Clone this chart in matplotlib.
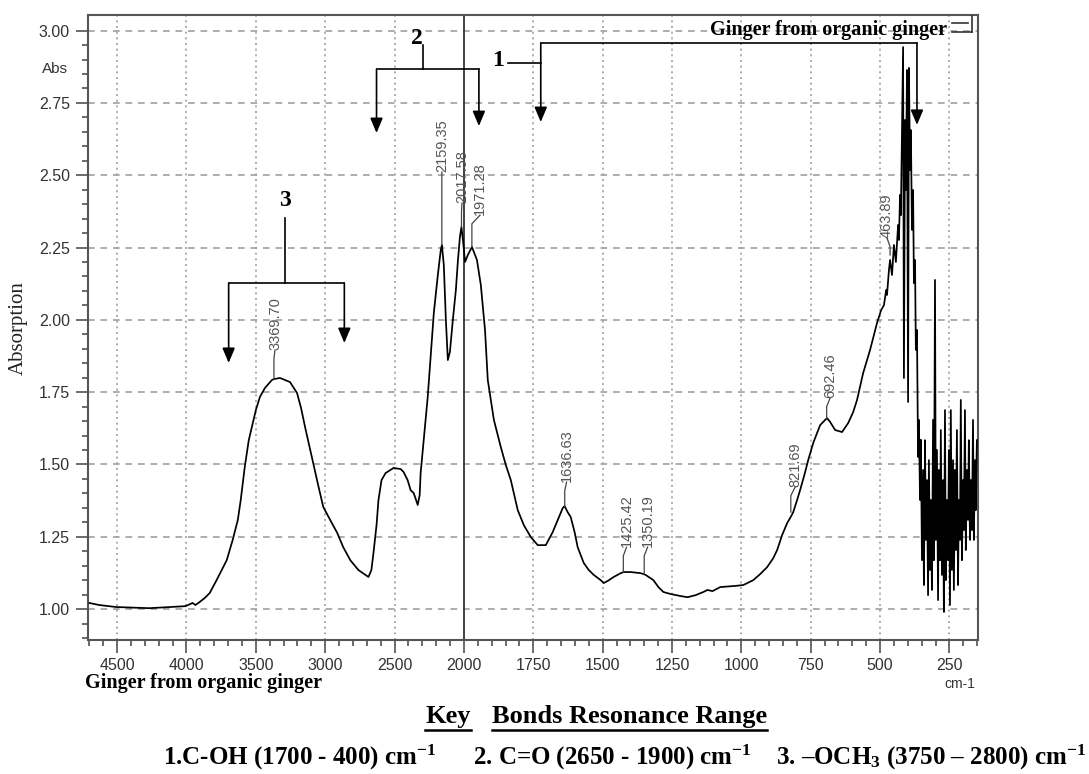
import matplotlib
matplotlib.use("Agg")
import matplotlib.pyplot as plt
from matplotlib.lines import Line2D
from matplotlib.ticker import FixedLocator, FormatStrFormatter
import numpy as np

# spectrum (wavenumber cm-1, absorbance)
wavenumber = [4700, 4630, 4507, 4268, 4123, 4007, 3956, 3935, 3906, 3869, 3833, 3783, 3710,
              3667, 3630, 3609, 3580, 3551, 3529, 3500, 3471, 3435, 3384, 3370, 3326, 3254,
              3203, 3174, 3145, 3116, 3087, 3051, 3014, 2964, 2913, 2870, 2819, 2761, 2688,
              2667, 2652, 2630, 2616, 2594, 2565, 2507, 2456, 2435, 2406, 2384, 2362, 2333,
              2319, 2312, 2283, 2261, 2239, 2217, 2188, 2167, 2159, 2145, 2130, 2116, 2101,
              2080, 2058, 2043, 2029, 2018, 2007, 1996, 1986, 1971, 1953, 1939, 1924, 1914,
              1892, 1867, 1849, 1831, 1806, 1784, 1759, 1734, 1705, 1680, 1662, 1644, 1637,
              1626, 1615, 1601, 1590, 1568, 1550, 1532, 1507, 1496, 1482, 1460, 1435, 1424,
              1399, 1363, 1353, 1345, 1317, 1299, 1281, 1255, 1219, 1194, 1165, 1137, 1122,
              1104, 1076, 1022, 993, 957, 932, 907, 885, 871, 853, 835, 820, 813, 799, 788,
              773, 759, 741, 716, 698, 691, 680, 662, 637, 615, 597, 583, 561, 536, 511, 496,
              486, 478, 475, 468, 464, 457, 450, 443, 435, 432, 428, 425, 421, 417, 414, 410,
              407, 403, 399, 396, 392, 389, 385, 381, 378, 374, 371, 367, 363, 360, 356, 353,
              349, 345]
absorbance = [1.021, 1.014, 1.007, 1.003, 1.007, 1.010, 1.021, 1.014, 1.024, 1.038, 1.055,
              1.100, 1.169, 1.239, 1.308, 1.377, 1.491, 1.584, 1.629, 1.688, 1.733, 1.764,
              1.792, 1.795, 1.799, 1.785, 1.747, 1.695, 1.629, 1.567, 1.505, 1.429, 1.353,
              1.308, 1.263, 1.214, 1.169, 1.135, 1.111, 1.135, 1.194, 1.290, 1.377, 1.446,
              1.470, 1.488, 1.484, 1.474, 1.446, 1.411, 1.401, 1.360, 1.394, 1.470, 1.619,
              1.733, 1.878, 2.024, 2.155, 2.241, 2.259, 2.190, 1.999, 1.861, 1.889, 1.999,
              2.103, 2.207, 2.286, 2.321, 2.276, 2.200, 2.224, 2.252, 2.207, 2.120, 1.965,
              1.792, 1.654, 1.560, 1.498, 1.446, 1.342, 1.290, 1.249, 1.221, 1.221, 1.266,
              1.308, 1.349, 1.356, 1.335, 1.318, 1.266, 1.214, 1.159, 1.135, 1.118, 1.100,
              1.090, 1.097, 1.111, 1.124, 1.128, 1.128, 1.124, 1.121, 1.118, 1.100, 1.076,
              1.059, 1.052, 1.045, 1.041, 1.048, 1.059, 1.066, 1.062, 1.076, 1.080, 1.083,
              1.100, 1.121, 1.145, 1.176, 1.204, 1.256, 1.297, 1.322, 1.335, 1.377, 1.412,
              1.463, 1.515, 1.574, 1.636, 1.654, 1.660, 1.647, 1.619, 1.612, 1.643, 1.681,
              1.723, 1.816, 1.896, 1.989, 2.034, 2.051, 2.103, 2.086, 2.172, 2.207, 2.155,
              2.259, 2.200, 2.328, 2.276, 2.432, 2.362, 2.656, 2.943, 1.799, 2.691, 2.449,
              2.864, 1.716, 2.871, 2.518, 2.656, 2.311, 2.449, 2.127, 2.207, 1.896, 1.965,
              1.526, 1.654, 1.377, 1.585, 1.169, 1.481]

# noisy tail below 345 cm-1
noise_wavenumber = [342, 338, 335, 331, 327, 324, 320, 317, 313, 309, 306, 302, 299, 295,
                    291, 288, 284, 281, 277, 273, 270, 266, 263, 259, 255, 252, 248, 245,
                    241, 237, 234, 230, 227, 223, 219, 216, 212, 209, 205, 201, 198, 194,
                    191, 187, 183, 180, 176, 173, 169, 165, 162, 158, 155, 151]
noise_absorbance = [1.083, 1.584, 1.239, 1.446, 1.048, 1.515, 1.135, 1.377, 1.066, 1.654,
                    1.169, 2.138, 1.239, 1.550, 1.031, 1.481, 1.169, 1.619, 1.118, 1.446,
                    0.990, 1.688, 1.100, 1.377, 1.169, 1.550, 1.014, 1.688, 1.135, 1.515,
                    1.066, 1.481, 1.204, 1.619, 1.083, 1.377, 1.239, 1.723, 1.169, 1.446,
                    1.273, 1.688, 1.204, 1.481, 1.308, 1.584, 1.239, 1.446, 1.273, 1.654,
                    1.239, 1.515, 1.342, 1.584]

peak_wavenumber = [3369.70, 2159.35, 2017.58, 1971.28, 1636.63, 1425.42, 1350.19, 821.69, 692.46, 463.89]
peak_absorbance = [1.795, 2.259, 2.321, 2.252, 1.356, 1.128, 1.121, 1.335, 1.660, 2.224]
label_wavenumber = [3362, 2159, 2014, 1942, 1630, 1414, 1338, 806, 680, 475]
label_base = [1.896, 2.511, 2.404, 2.362, 1.439, 1.214, 1.214, 1.422, 1.730, 2.283]

x_major = [4500, 4000, 3500, 3000, 2500, 2000, 1750, 1500, 1250, 1000, 750, 500, 250]
y_major = [1.00, 1.25, 1.50, 1.75, 2.00, 2.25, 2.50, 2.75, 3.00]

key_items = ["1.C-OH (1700 - 400) cm$^{-1}$",
             "2. C=O (2650 - 1900) cm$^{-1}$",
             "3. \u2013OCH$_3$ (3750 \u2013 2800) cm$^{-1}$"]

W, H = 1089, 774
plt.rcParams["font.family"] = ["Liberation Sans", "DejaVu Sans"]
plt.rcParams["mathtext.fontset"] = "custom"
plt.rcParams["mathtext.rm"] = "Liberation Serif:bold"
plt.rcParams["mathtext.it"] = "Liberation Serif:bold"
plt.rcParams["mathtext.bf"] = "Liberation Serif:bold"
SERIF = ["Liberation Serif", "DejaVu Serif"]


def fwd(x):
    x = np.asarray(x, dtype=float)
    return np.where(x > 2000, 2000 + (x - 2000) / 2, x)


def inv(t):
    t = np.asarray(t, dtype=float)
    return np.where(t > 2000, 2000 + (t - 2000) * 2, t)


def fp(x, y):
    return x / W, 1 - y / H


fig = plt.figure(figsize=(W / 100, H / 100), dpi=100)
ax = fig.add_axes([88 / W, 1 - 640 / H, (978 - 88) / W, (640 - 15) / H])
ax.set_xscale("function", functions=(fwd, inv))
ax.set_xlim(4710, 147)
ax.set_ylim(0.893, 3.054)

x_minor = list(range(4700, 2000, -100)) + list(range(2000, 149, -50))
ax.xaxis.set_major_locator(FixedLocator(x_major))
ax.xaxis.set_minor_locator(FixedLocator(x_minor))
ax.xaxis.set_major_formatter(FormatStrFormatter("%d"))
ax.xaxis.set_minor_formatter(FormatStrFormatter(""))
ax.yaxis.set_major_locator(FixedLocator(y_major))
ax.yaxis.set_minor_locator(FixedLocator(np.arange(0.90, 3.05, 0.05)))
ax.yaxis.set_major_formatter(FormatStrFormatter("%.2f"))

ax.tick_params(which="major", direction="out", length=9, width=1.1, color="#444",
               labelsize=11.5, labelcolor="#333", pad=4)
ax.tick_params(which="minor", direction="out", length=4.5, width=1.1, color="#444")
ax.tick_params(axis="x", which="major", pad=4)
for s in ax.spines.values():
    s.set_color("#555")
    s.set_linewidth(1.5)

for y in y_major:
    ax.axhline(y, color="#a0a0a0", lw=1.2, ls=(0, (4, 3.5)), zorder=1)
for x in x_major:
    if x != 2000:
        ax.axvline(x, color="#a0a0a0", lw=1.2, ls=(0, (1.2, 2.2)), zorder=1)
ax.axvline(2000, color="#333", lw=1.3, zorder=2)

ax.plot(wavenumber + noise_wavenumber, absorbance + noise_absorbance,
        color="black", lw=1.25, zorder=3)

# peak labels
for pw, pa, lw_, lb in zip(peak_wavenumber, peak_absorbance, label_wavenumber, label_base):
    ax.plot([pw, pw, lw_], [pa, lb - 0.03, lb], color="#444", lw=0.9, zorder=4)
    ax.text(lw_, lb, f"{pw:.2f}", rotation=90, ha="center", va="bottom",
            fontsize=10.5, color="#555", zorder=4)

# range brackets
arrow = dict(arrowstyle="-|>,head_length=0.9,head_width=0.38", color="black",
             lw=1.2, shrinkA=0, shrinkB=0, mutation_scale=10)


def bracket(num, num_xy, stem_x, stem_top, bar_y, ends, tips):
    ax.text(num_xy[0], num_xy[1], num, ha="center", va="center", fontsize=17,
            fontweight="bold", family=SERIF, zorder=5)
    ax.plot([stem_x, stem_x], [stem_top, bar_y], color="black", lw=1.2, zorder=5)
    ax.plot(ends, [bar_y, bar_y], color="black", lw=1.2, zorder=5)
    for x, t in zip(ends, tips):
        ax.annotate("", xy=(x, t), xytext=(x, bar_y), arrowprops=arrow, zorder=5)


bracket("3", (3290, 2.414), 3290, 2.352, 2.127, [3696, 2862], [1.851, 1.920])
bracket("2", (2341, 2.974), 2297, 2.950, 2.867, [2630, 1946], [2.646, 2.670])
# bracket 1
ax.text(1878, 2.898, "1", ha="center", va="center", fontsize=17, fontweight="bold",
        family=SERIF, zorder=5)
ax.plot([1842, 1723], [2.888, 2.888], color="black", lw=1.2, zorder=5)
ax.plot([1723, 367], [2.957, 2.957], color="black", lw=1.2, zorder=5)
ax.annotate("", xy=(1723, 2.684), xytext=(1723, 2.957), arrowprops=arrow, zorder=5)
ax.annotate("", xy=(367, 2.674), xytext=(367, 2.957), arrowprops=arrow, zorder=5)

# surrounding text
fig.text(*fp(18, 328), "Absorption", rotation=90, ha="center", va="center",
         fontsize=15, family=SERIF, color="#222")
fig.text(*fp(55, 69), "Abs", ha="center", va="center", fontsize=11, color="#333")
fig.text(*fp(960, 684), "cm-1", ha="center", va="center", fontsize=10, color="#333")
fig.text(*fp(85, 683), "Ginger from organic ginger", ha="left", va="center",
         fontsize=14.5, fontweight="bold", family=SERIF)
fig.text(*fp(947, 30), "Ginger from organic ginger", ha="right", va="center",
         fontsize=14.5, fontweight="bold", family=SERIF)
for (x0, y0), (x1, y1) in [((952, 23), (968, 23)), ((952, 32), (972, 32)),
                           ((972, 16), (972, 32))]:
    a, b = fp(x0, y0)
    c, d = fp(x1, y1)
    fig.add_artist(Line2D([a, c], [b, d], color="#333", lw=1.2))

renderer = fig.canvas.get_renderer()
for label, x in [("Key", 425), ("Bonds Resonance Range", 492)]:
    t = fig.text(*fp(x, 716), label, ha="left", va="center", fontsize=19,
                 fontweight="bold", family=SERIF)
    bb = t.get_window_extent(renderer)
    a, b = fp(bb.x0, 730)
    c, _ = fp(bb.x1, 730)
    fig.add_artist(Line2D([a, c], [b, b], color="black", lw=1.8))

for item, x in zip(key_items, [163, 473, 776]):
    fig.text(*fp(x, 757), item, ha="left", va="center", fontsize=18,
             fontweight="bold", family=SERIF)

fig.savefig("out.png", dpi=100)
